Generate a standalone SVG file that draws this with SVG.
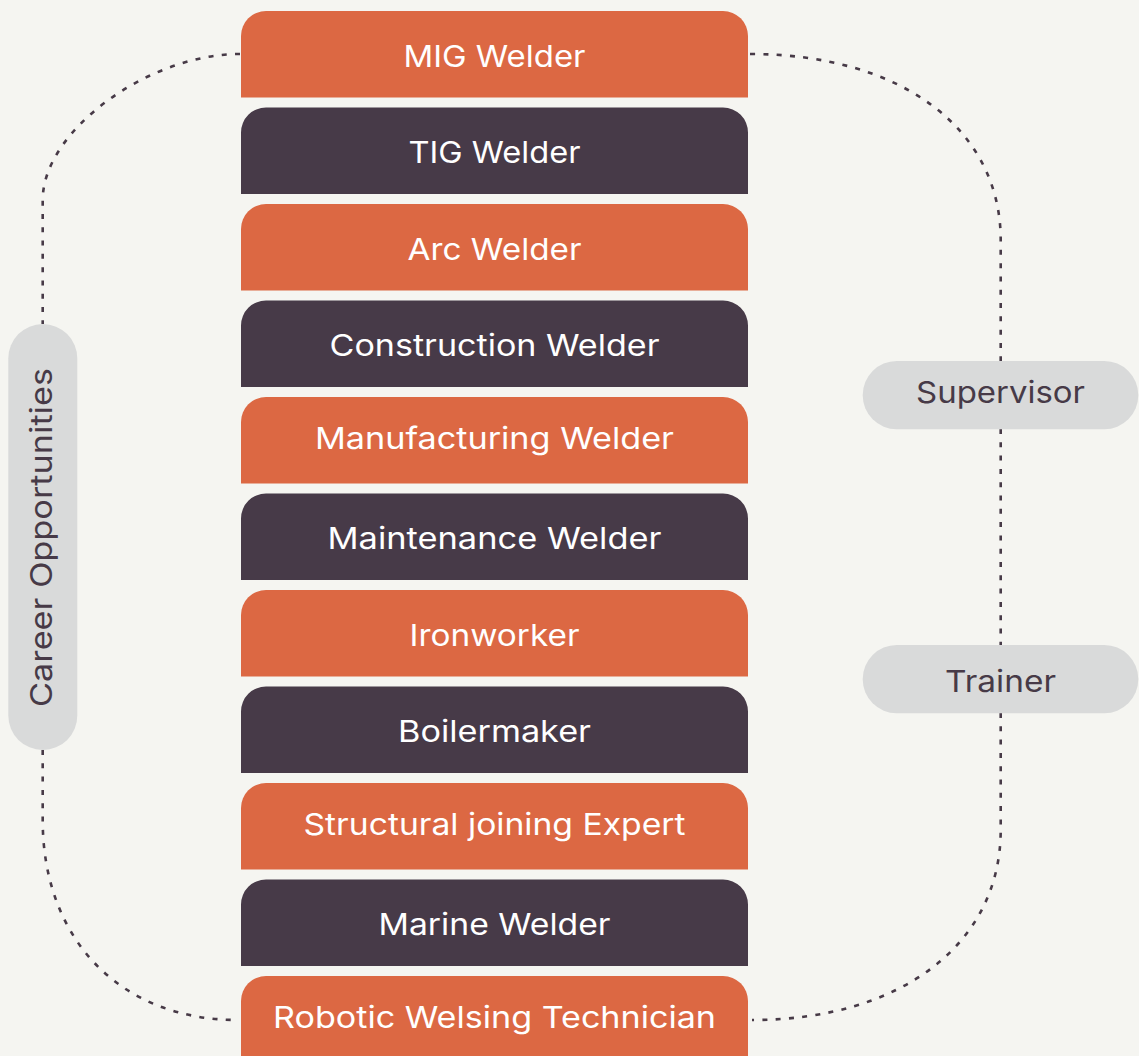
<svg xmlns="http://www.w3.org/2000/svg" width="1139" height="1056" viewBox="0 0 1139 1056">
<style>
.bg{fill:#f5f5f1}
.conn{fill:none;stroke:#473a47;stroke-width:2.6;stroke-dasharray:5 8.3}
.or{fill:#dc6843}
.dk{fill:#473a48}
.pill{fill:#d9dada}
.bt{font-family:Inter,"Open Sans","Liberation Sans",sans-serif;font-size:30px;font-weight:400;fill:#ffffff;text-anchor:middle}
.pt{font-family:Inter,"Open Sans","Liberation Sans",sans-serif;font-size:30px;font-weight:400;fill:#473a47;text-anchor:middle}
</style>
<rect class="bg" x="0" y="0" width="1139" height="1056"/>
<g id="connectors">
<path class="conn" d="M240,54 C148,54 42.7,131 42.7,200 V324"/>
<path class="conn" d="M750,54 C900.4,54 1000.7,128.4 1000.7,240 V361"/>
<path class="conn" d="M1000.7,429 V645"/>
<path class="conn" d="M1000.7,713 V830 C1000.7,944 901,1020 752,1020"/>
<path class="conn" d="M42.7,750 V820 C42.7,940 120.8,1020 238,1020"/>
</g>
<g id="career-opportunities">
<rect class="pill" x="8.3" y="324" width="69" height="426" rx="34.5"/>
<text class="pt" transform="translate(51.7,537.5) rotate(-90)" x="0" y="0" textLength="339" lengthAdjust="spacingAndGlyphs">Career Opportunities</text>
</g>
<g id="supervisor">
<rect class="pill" x="862.7" y="361" width="275.6" height="68.3" rx="34"/>
<text class="pt" x="1000.5" y="403.3" textLength="169" lengthAdjust="spacingAndGlyphs">Supervisor</text>
</g>
<g id="trainer">
<rect class="pill" x="862.7" y="645" width="275.6" height="68.3" rx="34"/>
<text class="pt" x="1000.5" y="691.7" textLength="111" lengthAdjust="spacingAndGlyphs">Trainer</text>
</g>
<g id="mig-welder">
<path class="or" d="M241,97.5 V36 A25,25 0 0 1 266,11 H723 A25,25 0 0 1 748,36 V97.5 Z"/>
<text class="bt" x="494.5" y="66.7" textLength="182" lengthAdjust="spacingAndGlyphs">MIG Welder</text>
</g>
<g id="tig-welder">
<path class="dk" d="M241,194 V132.5 A25,25 0 0 1 266,107.5 H723 A25,25 0 0 1 748,132.5 V194 Z"/>
<text class="bt" x="494.5" y="163.2" textLength="172" lengthAdjust="spacingAndGlyphs">TIG Welder</text>
</g>
<g id="arc-welder">
<path class="or" d="M241,290.5 V229 A25,25 0 0 1 266,204 H723 A25,25 0 0 1 748,229 V290.5 Z"/>
<text class="bt" x="494.5" y="259.7" textLength="174" lengthAdjust="spacingAndGlyphs">Arc Welder</text>
</g>
<g id="construction-welder">
<path class="dk" d="M241,387 V325.5 A25,25 0 0 1 266,300.5 H723 A25,25 0 0 1 748,325.5 V387 Z"/>
<text class="bt" x="494.5" y="356.2" textLength="330" lengthAdjust="spacingAndGlyphs">Construction Welder</text>
</g>
<g id="manufacturing-welder">
<path class="or" d="M241,483.5 V422 A25,25 0 0 1 266,397 H723 A25,25 0 0 1 748,422 V483.5 Z"/>
<text class="bt" x="494.5" y="448.5" textLength="359" lengthAdjust="spacingAndGlyphs">Manufacturing Welder</text>
</g>
<g id="maintenance-welder">
<path class="dk" d="M241,580 V518.5 A25,25 0 0 1 266,493.5 H723 A25,25 0 0 1 748,518.5 V580 Z"/>
<text class="bt" x="494.5" y="549.2" textLength="334" lengthAdjust="spacingAndGlyphs">Maintenance Welder</text>
</g>
<g id="ironworker">
<path class="or" d="M241,676.5 V615 A25,25 0 0 1 266,590 H723 A25,25 0 0 1 748,615 V676.5 Z"/>
<text class="bt" x="494.5" y="645.7" textLength="170" lengthAdjust="spacingAndGlyphs">Ironworker</text>
</g>
<g id="boilermaker">
<path class="dk" d="M241,773 V711.5 A25,25 0 0 1 266,686.5 H723 A25,25 0 0 1 748,711.5 V773 Z"/>
<text class="bt" x="494.5" y="742.2" textLength="193" lengthAdjust="spacingAndGlyphs">Boilermaker</text>
</g>
<g id="structural-joining-expert">
<path class="or" d="M241,869.5 V808 A25,25 0 0 1 266,783 H723 A25,25 0 0 1 748,808 V869.5 Z"/>
<text class="bt" x="494.5" y="835" textLength="382" lengthAdjust="spacingAndGlyphs">Structural joining Expert</text>
</g>
<g id="marine-welder">
<path class="dk" d="M241,966 V904.5 A25,25 0 0 1 266,879.5 H723 A25,25 0 0 1 748,904.5 V966 Z"/>
<text class="bt" x="494.5" y="935.2" textLength="232" lengthAdjust="spacingAndGlyphs">Marine Welder</text>
</g>
<g id="robotic-welsing-technician">
<path class="or" d="M241,1062.5 V1001 A25,25 0 0 1 266,976 H723 A25,25 0 0 1 748,1001 V1062.5 Z"/>
<text class="bt" x="494.5" y="1028.3" textLength="443" lengthAdjust="spacingAndGlyphs">Robotic Welsing Technician</text>
</g>
</svg>
